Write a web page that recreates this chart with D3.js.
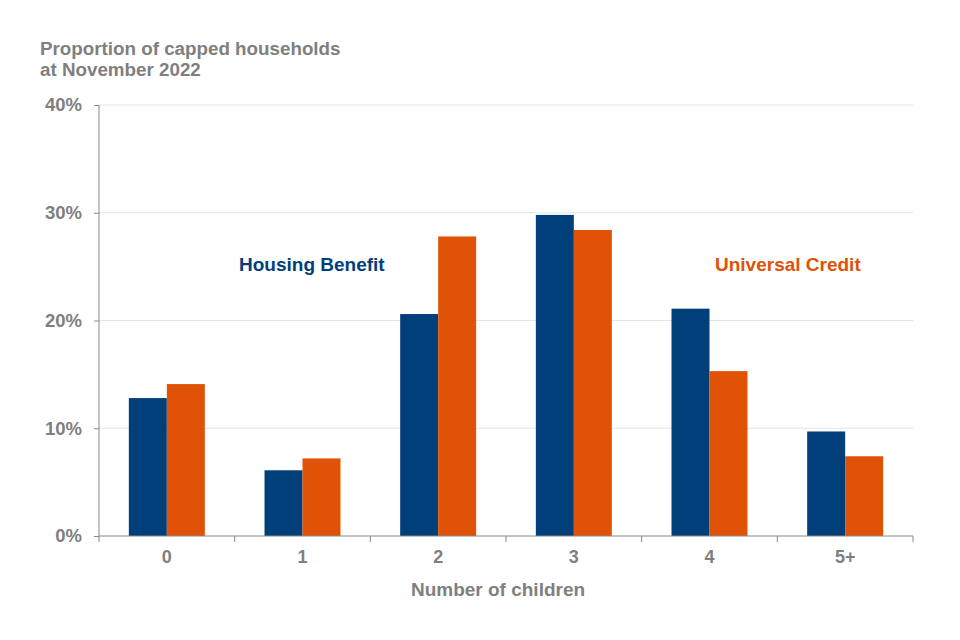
<!DOCTYPE html>
<html>
<head>
<meta charset="utf-8">
<script src="https://cdn.jsdelivr.net/npm/d3@7"></script>
<style>
  body { margin: 0; background: #fff; }
  text { font-family: "Liberation Sans", Arial, sans-serif; font-weight: bold; }
</style>
</head>
<body>
<svg id="chart" width="960" height="640"></svg>
<script>
var categories = ["0", "1", "2", "3", "4", "5+"];
var housingBenefit = [12.8, 6.1, 20.6, 29.8, 21.1, 9.7];
var universalCredit = [14.1, 7.2, 27.8, 28.4, 15.3, 7.4];
var yTicks = [0, 10, 20, 30, 40];

var margin = { top: 105, right: 47, bottom: 104, left: 99 };
var width = 960 - margin.left - margin.right;
var height = 640 - margin.top - margin.bottom;

var svg = d3.select("#chart");
var g = svg.append("g")
    .attr("transform", "translate(" + margin.left + "," + margin.top + ")");

var x = d3.scaleBand().domain(categories).range([0, width]);
var y = d3.scaleLinear().domain([0, 40]).range([height, 0]);
var barW = x.bandwidth() * 0.28;

// gridlines
g.selectAll(".grid")
    .data(yTicks.slice(1))
    .enter().append("line")
    .attr("x1", 0)
    .attr("x2", width)
    .attr("y1", function (d) { return y(d); })
    .attr("y2", function (d) { return y(d); })
    .attr("stroke", "#e3e3e3")
    .attr("stroke-width", 1);

var series = [
    { values: housingBenefit, color: "#003f7a", offset: -1 },
    { values: universalCredit, color: "#e05206", offset: 0 }
];

series.forEach(function (s) {
    g.selectAll(null)
        .data(s.values)
        .enter().append("rect")
        .attr("x", function (d, i) { return x(categories[i]) + x.bandwidth() / 2 + s.offset * barW; })
        .attr("y", function (d) { return y(d); })
        .attr("width", barW)
        .attr("height", function (d) { return height - y(d); })
        .attr("fill", s.color);
});

// y axis
var yAxis = g.append("g")
    .call(d3.axisLeft(y).tickValues(yTicks).tickSize(5).tickPadding(12)
        .tickFormat(function (d) { return d + "%"; }));
yAxis.select(".domain").attr("stroke", "#888").attr("d", "M0," + height + "V0");
yAxis.selectAll(".tick line").attr("stroke", "#888");
yAxis.selectAll(".tick text").attr("fill", "#7f7f7f").style("font-size", "18.5px");

// x axis
var xAxis = g.append("g")
    .attr("transform", "translate(0," + height + ")")
    .call(d3.axisBottom(x).tickSize(0).tickPadding(14));
xAxis.select(".domain").attr("stroke", "#888").attr("d", "M0,0H" + width);
xAxis.selectAll(".tick text").attr("fill", "#7f7f7f").style("font-size", "18px");

var bounds = d3.range(categories.length + 1).map(function (i) { return i * x.step(); });
xAxis.selectAll(".bound")
    .data(bounds)
    .enter().append("line")
    .attr("x1", function (d) { return d; })
    .attr("x2", function (d) { return d; })
    .attr("y1", 0)
    .attr("y2", 6)
    .attr("stroke", "#888");

// axis title
svg.append("text")
    .attr("x", 498)
    .attr("y", 596)
    .attr("text-anchor", "middle")
    .attr("fill", "#7f7f7f")
    .style("font-size", "19px")
    .text("Number of children");

// chart title
svg.append("text")
    .attr("x", 40)
    .attr("y", 55)
    .attr("fill", "#7f7f7f")
    .style("font-size", "18.8px")
    .text("Proportion of capped households");
svg.append("text")
    .attr("x", 40)
    .attr("y", 76)
    .attr("fill", "#7f7f7f")
    .style("font-size", "18.8px")
    .text("at November 2022");

// series labels
svg.append("text")
    .attr("x", 239)
    .attr("y", 271)
    .attr("fill", "#003f7a")
    .style("font-size", "19px")
    .text("Housing Benefit");
svg.append("text")
    .attr("x", 715)
    .attr("y", 271)
    .attr("fill", "#e05206")
    .style("font-size", "19px")
    .text("Universal Credit");
</script>
</body>
</html>
